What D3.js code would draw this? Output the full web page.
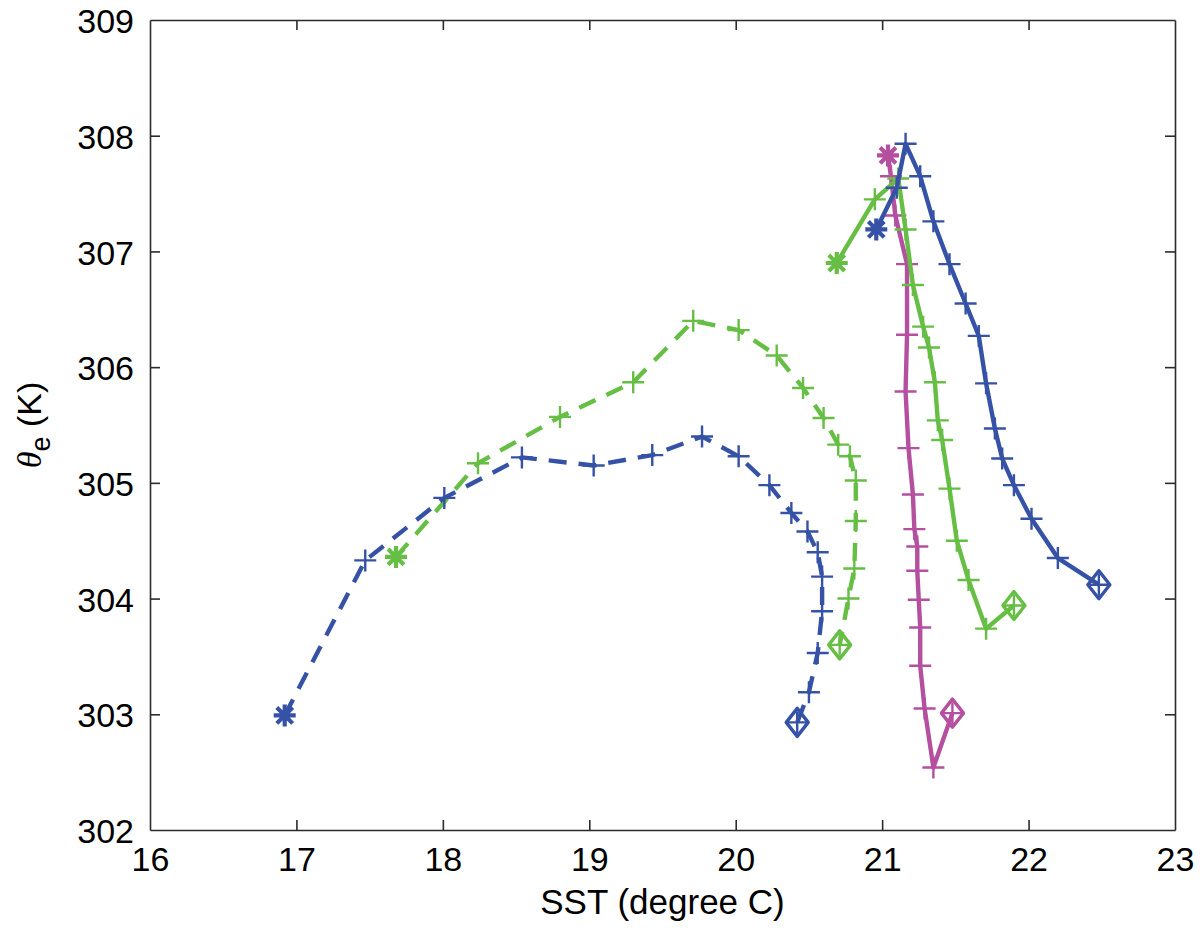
<!DOCTYPE html>
<html>
<head>
<meta charset="utf-8">
<script src="https://cdn.jsdelivr.net/npm/d3@7"></script>
<style>
  body { margin: 0; background: #fff; }
  svg { display: block; }
  text { font-family: "Liberation Sans", Arial, sans-serif; }
</style>
</head>
<body>
<script>
// SST (degree C) and theta_e (K), one pair of arrays per track
const sstBlueDashed   = [16.92, 17.47, 18.01, 18.54, 19.03, 19.43, 19.77, 20.02, 20.23, 20.38, 20.49, 20.56, 20.59, 20.59, 20.56, 20.50, 20.42];
const thetaBlueDashed = [302.99, 304.33, 304.87, 305.22, 305.15, 305.24, 305.40, 305.23, 304.98, 304.74, 304.58, 304.40, 304.19, 303.89, 303.53, 303.19, 302.93];

const sstGreenDashed   = [17.68, 18.24, 18.80, 19.30, 19.71, 20.02, 20.28, 20.46, 20.60, 20.70, 20.78, 20.82, 20.82, 20.81, 20.77, 20.71];
const thetaGreenDashed = [304.36, 305.17, 305.57, 305.87, 306.40, 306.32, 306.10, 305.82, 305.56, 305.33, 305.23, 305.02, 304.67, 304.26, 304.00, 303.60];

const sstGreenSolid   = [20.69, 20.95, 21.11, 21.16, 21.21, 21.28, 21.32, 21.36, 21.38, 21.41, 21.46, 21.51, 21.59, 21.71, 21.90];
const thetaGreenSolid = [306.90, 307.45, 307.63, 307.19, 306.71, 306.35, 306.17, 305.87, 305.54, 305.37, 304.95, 304.50, 304.16, 303.74, 303.94];

const sstPink   = [21.04, 21.06, 21.09, 21.17, 21.17, 21.16, 21.18, 21.21, 21.22, 21.24, 21.24, 21.25, 21.26, 21.26, 21.29, 21.35, 21.48];
const thetaPink = [307.83, 307.65, 307.31, 306.89, 306.28, 305.79, 305.30, 304.90, 304.60, 304.45, 304.24, 303.99, 303.75, 303.42, 303.05, 302.54, 303.01];

const sstBlueSolid   = [20.96, 21.10, 21.16, 21.26, 21.35, 21.46, 21.57, 21.66, 21.71, 21.77, 21.82, 21.90, 22.02, 22.20, 22.48];
const thetaBlueSolid = [307.19, 307.55, 307.93, 307.65, 307.26, 306.89, 306.55, 306.27, 305.86, 305.47, 305.21, 304.98, 304.69, 304.35, 304.12];

const xTicks = [16, 17, 18, 19, 20, 21, 22, 23];
const yTicks = [302, 303, 304, 305, 306, 307, 308, 309];

const blue = "#3552a6", green = "#66bf44", pink = "#b54f9f";

// drawing order matters a little where the tracks overlap
const series = [
    { x: sstGreenDashed, y: thetaGreenDashed, color: green, dash: "18,12" },
    { x: sstBlueDashed,  y: thetaBlueDashed,  color: blue,  dash: "18,12" },
    { x: sstPink,        y: thetaPink,        color: pink,  dash: null },
    { x: sstGreenSolid,  y: thetaGreenSolid,  color: green, dash: null },
    { x: sstBlueSolid,   y: thetaBlueSolid,   color: blue,  dash: null }
];

const W = 1200, H = 931;
const mLeft = 150, mRight = 1175, mTop = 20, mBottom = 830;

const svg = d3.select("body").append("svg")
    .attr("width", W)
    .attr("height", H);

const x = d3.scaleLinear().domain([16, 23]).range([mLeft, mRight]);
const y = d3.scaleLinear().domain([302, 309]).range([mBottom, mTop]);

// axes box, ticks pointing inward like matlab
const axisColor = "#2b2b2b";
const fmt = d3.format("d");
function styleAxis(g) {
    g.selectAll("path, line").attr("stroke", axisColor).attr("stroke-width", 1.6);
    g.selectAll("text").attr("fill", "#000").attr("font-size", 34)
        .attr("font-family", "'Liberation Sans', Arial, sans-serif");
}

svg.append("g").attr("transform", `translate(0,${mBottom})`)
    .call(d3.axisBottom(x).tickValues(xTicks).tickFormat(fmt).tickSizeInner(-10).tickSizeOuter(0).tickPadding(17))
    .call(styleAxis);
svg.append("g").attr("transform", `translate(0,${mTop})`)
    .call(d3.axisTop(x).tickValues(xTicks).tickSizeInner(-10).tickSizeOuter(0).tickFormat(""))
    .call(styleAxis);
svg.append("g").attr("transform", `translate(${mLeft},0)`)
    .call(d3.axisLeft(y).tickValues(yTicks).tickFormat(fmt).tickSizeInner(-10).tickSizeOuter(0).tickPadding(16))
    .call(styleAxis)
    .selectAll("text").attr("dy", "0.37em");
svg.append("g").attr("transform", `translate(${mRight},0)`)
    .call(d3.axisRight(y).tickValues(yTicks).tickSizeInner(-10).tickSizeOuter(0).tickFormat(""))
    .call(styleAxis);

// end ticks sit on the box edges, drop them
svg.selectAll(".tick line").filter(d => d === 16 || d === 23 || d === 302 || d === 309).remove();

// labels
svg.append("text")
    .attr("x", (mLeft + mRight) / 2)
    .attr("y", 914)
    .attr("text-anchor", "middle")
    .attr("font-size", 35)
    .text("SST (degree C)");

const yl = svg.append("text")
    .attr("transform", `translate(41,${(mTop + mBottom) / 2}) rotate(-90)`)
    .attr("text-anchor", "middle")
    .attr("font-size", 34);
yl.append("tspan").attr("font-style", "italic").attr("font-family", "'Liberation Serif', serif").text("θ");
yl.append("tspan").attr("dy", 9).attr("font-size", 27).text("e");
yl.append("tspan").attr("dy", -9).text(" (K)");

// tracks
const line = d3.line().x(d => x(d[0])).y(d => y(d[1]));

function plusPath(cx, cy, r) {
    return `M${cx - r},${cy}H${cx + r}M${cx},${cy - r}V${cy + r}`;
}
function starPath(cx, cy, r) {
    const d = r * 0.72;
    return plusPath(cx, cy, r) + `M${cx - d},${cy - d}L${cx + d},${cy + d}M${cx - d},${cy + d}L${cx + d},${cy - d}`;
}
function diamondPath(cx, cy, rx, ry) {
    return `M${cx},${cy - ry}L${cx + rx},${cy}L${cx},${cy + ry}L${cx - rx},${cy}Z`;
}

series.forEach(s => {
    const pts = s.x.map((v, i) => [v, s.y[i]]);
    const g = svg.append("g");

    g.append("path")
        .datum(pts)
        .attr("d", line)
        .attr("fill", "none")
        .attr("stroke", s.color)
        .attr("stroke-width", 4.4)
        .attr("stroke-dasharray", s.dash)
        .attr("stroke-linejoin", "round");

    // plus on every step except the first one (asterisk there)
    g.selectAll(".pl")
        .data(pts.slice(1))
        .join("path")
        .attr("d", d => plusPath(x(d[0]), y(d[1]), 11))
        .attr("stroke", s.color)
        .attr("stroke-width", 2.4)
        .attr("fill", "none");

    const p0 = pts[0], pn = pts[pts.length - 1];
    g.append("path")
        .attr("d", starPath(x(p0[0]), y(p0[1]), 11))
        .attr("stroke", s.color)
        .attr("stroke-width", 4.2)
        .attr("fill", "none");

    g.append("path")
        .attr("d", diamondPath(x(pn[0]), y(pn[1]), 11, 14))
        .attr("stroke", s.color)
        .attr("stroke-width", 3.4)
        .attr("stroke-linejoin", "round")
        .attr("fill", "none");
});
</script>
</body>
</html>
